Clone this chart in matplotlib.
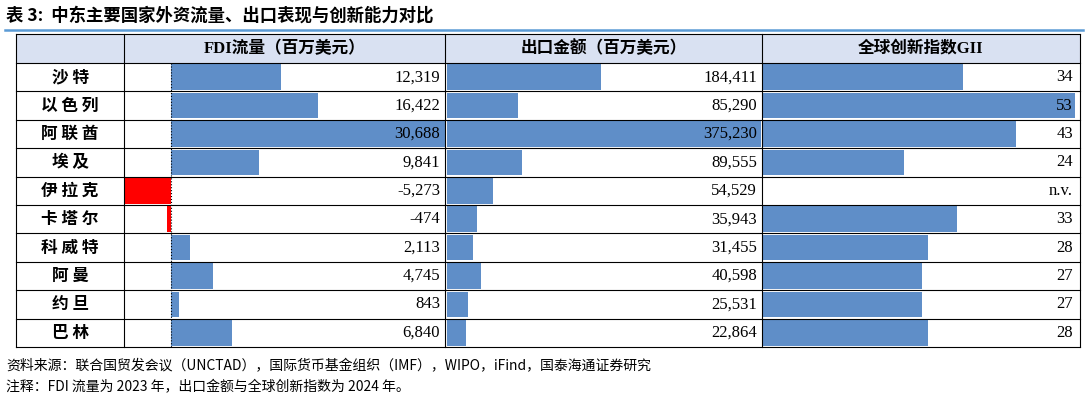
import matplotlib
matplotlib.use("Agg")
import matplotlib.pyplot as plt
from matplotlib.patches import Rectangle

countries = ["沙特","以色列","阿联酋","埃及","伊拉克","卡塔尔","科威特","阿曼","约旦","巴林"]
fdi = [12319,16422,30688,9841,-5273,-474,2113,4745,843,6840]
exports = [184411,85290,375230,89555,54529,35943,31455,40598,25531,22864]
gii = [34,53,43,24,None,33,28,27,27,28]
headers = ["FDI流量（百万美元）","出口金额（百万美元）","全球创新指数GII"]

W,H = 1088,403
fig = plt.figure(figsize=(W/100,H/100),dpi=100)
ax = fig.add_axes([0,0,1,1]); ax.set_xlim(0,W); ax.set_ylim(H,0); ax.axis("off")
cjk = ["Noto Sans CJK SC","DejaVu Sans"]
ser = ["Liberation Serif","Noto Sans CJK SC"]

ax.text(6,16,"表 3:  中东主要国家外资流量、出口表现与创新能力对比",fontsize=12.5,fontweight="bold",family=cjk,va="center")
ax.plot([5,1083],[30,30],color="#5b9bd5",lw=1.8)
cols = [16,124,445,762,1080]
top, hb = 34, 63
rh = (347-63)/10
ax.add_patch(Rectangle((16,top),1064,hb-top,facecolor="#d9e1f2",edgecolor="none"))
for i,h in enumerate(headers):
    ax.text((cols[i+1]+cols[i+2])/2,(top+hb)/2,h,fontsize=12,fontweight="bold",family=ser,ha="center",va="center")
for i in range(11):
    y=hb+i*rh
    ax.plot([16,1080],[y,y],color="black",lw=0.8)
ax.plot([16,1080],[top,top],color="black",lw=0.8)
for x in cols:
    ax.plot([x,x],[top,347],color="black",lw=0.8)
for i,c in enumerate(countries):
    y=hb+(i+0.5)*rh
    ax.text(70,y," ".join(c),fontsize=12,fontweight="bold",family=cjk,ha="center",va="center")
    ax.text(440,y,f"{fdi[i]:,}",fontsize=12,family=ser,ha="right",va="center")
    ax.text(757,y,f"{exports[i]:,}",fontsize=12,family=ser,ha="right",va="center")
    ax.text(1073,y,"n.v." if gii[i] is None else str(gii[i]),fontsize=12,family=ser,ha="right",va="center")
ax.plot([171,171],[hb,347],color="black",lw=0.8,ls=":")

def bar_ax(x0,x1,xlim,vals,neg_red=False):
    b = fig.add_axes([x0/W,1-347/H,(x1-x0)/W,(347-hb)/H],zorder=0)
    b.set_xlim(*xlim); b.set_ylim(10,0); b.axis("off"); b.patch.set_alpha(0)
    for i,v in enumerate(vals):
        if v is None: continue
        col = "#ff0000" if (neg_red and v<0) else "#5f8ec8"
        b.barh(i+0.5,v,height=0.9,color=col)
    return b
ax.set_zorder(1); ax.patch.set_alpha(0)
bar_ax(124,445,(-(171-124)/((445-171)/30688),30688),fdi,True)
bar_ax(447,761,(0,375230),exports)
bar_ax(763,1075,(0,53),gii)

ax.text(6,366,"资料来源：联合国贸发会议（UNCTAD），国际货币基金组织（IMF），WIPO，iFind，国泰海通证券研究",fontsize=10,family=cjk,va="center")
ax.text(6,387,"注释：FDI 流量为 2023 年，出口金额与全球创新指数为 2024 年。",fontsize=10,family=cjk,va="center")
fig.savefig("out.png",dpi=100)
